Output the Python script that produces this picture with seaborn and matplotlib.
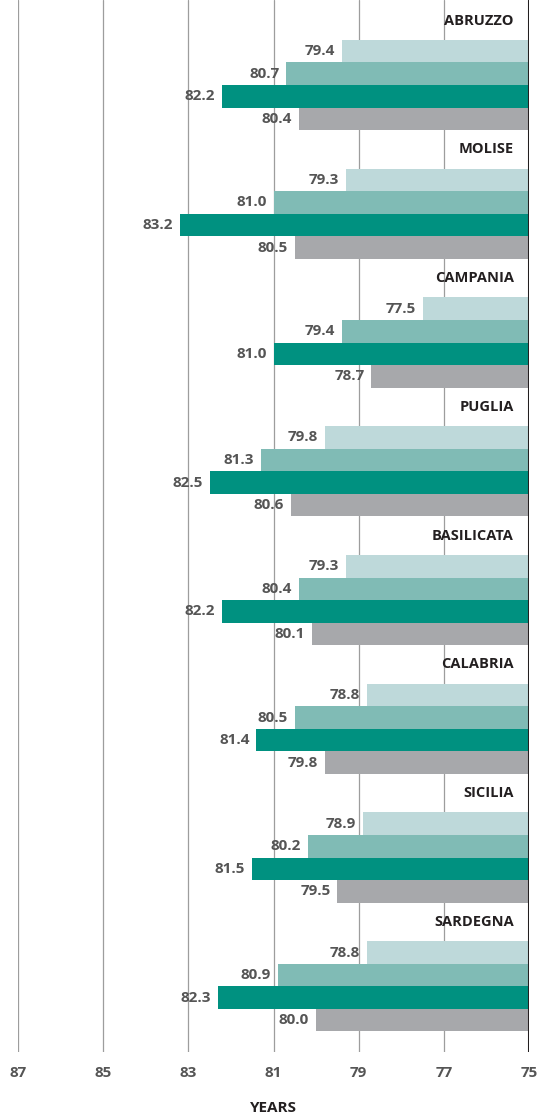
import numpy as np
import pandas as pd
import matplotlib
matplotlib.use("Agg")
import matplotlib.pyplot as plt
import seaborn as sns

# Life expectancy by region (years)
regions = ["ABRUZZO", "MOLISE", "CAMPANIA", "PUGLIA",
           "BASILICATA", "CALABRIA", "SICILIA", "SARDEGNA"]
series = ["Series 1", "Series 2", "Series 3", "Series 4"]
s1 = [79.4, 79.3, 77.5, 79.8, 79.3, 78.8, 78.9, 78.8]
s2 = [80.7, 81.0, 79.4, 81.3, 80.4, 80.5, 80.2, 80.9]
s3 = [82.2, 83.2, 81.0, 82.5, 82.2, 81.4, 81.5, 82.3]
s4 = [80.4, 80.5, 78.7, 80.6, 80.1, 79.8, 79.5, 80.0]
xticks = [87, 85, 83, 81, 79, 77, 75]

colors = ["#bed9da", "#80bbb5", "#009180", "#a7a8ab"]

df = pd.DataFrame({"region": regions * 4,
                   "series": np.repeat(series, len(regions)),
                   "value": s1 + s2 + s3 + s4})

sns.set_style("white")
plt.rcParams["font.family"] = ["Open Sans", "DejaVu Sans"]

fig = plt.figure(figsize=(5.39, 11.17), dpi=100)
ax = fig.add_axes([18 / 539, 65 / 1117, 511 / 539, 1052 / 1117])

sns.barplot(data=df, y="region", x="value", hue="series", order=regions,
            hue_order=series, palette=colors, width=0.7, orient="h",
            legend=False, saturation=1, linewidth=0, ax=ax, zorder=2)

ax.set_xlim(87, 75)
ax.set_ylim(7.51, -0.66)

# value labels
for c in ax.containers:
    ax.bar_label(c, fmt="%.1f", padding=5, fontsize=11,
                 fontweight="bold", color="#555555")

# region names above each group
for i, r in enumerate(regions):
    ax.annotate(r, xy=(75, i - 0.5), xytext=(-11, 0),
                textcoords="offset points", ha="right", va="center",
                fontsize=10.5, fontweight="bold", color="#231f20")

ax.set_xticks(xticks)
ax.set_xticklabels([str(t) for t in xticks], fontsize=11,
                   fontweight="bold", color="#555555")
ax.tick_params(axis="x", length=0, pad=10)
ax.set_yticks([])
ax.set_ylabel("")
ax.set_xlabel("YEARS", fontsize=11, fontweight="bold", color="#231f20",
              labelpad=15)

ax.grid(axis="x", color="#9d9d9d", lw=0.9, zorder=0)
ax.grid(axis="y", visible=False)
ax.set_axisbelow(True)
for s in ax.spines.values():
    s.set_visible(False)
ax.axvline(75, color="#231f20", lw=2.2, zorder=3)

fig.savefig("out.png", dpi=100)
